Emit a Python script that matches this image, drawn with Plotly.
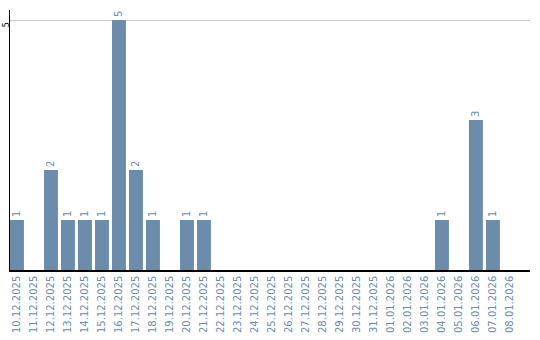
import plotly.graph_objects as go

dates = ["10.12.2025","11.12.2025","12.12.2025","13.12.2025","14.12.2025","15.12.2025",
         "16.12.2025","17.12.2025","18.12.2025","19.12.2025","20.12.2025","21.12.2025",
         "22.12.2025","23.12.2025","24.12.2025","25.12.2025","26.12.2025","27.12.2025",
         "28.12.2025","29.12.2025","30.12.2025","31.12.2025","01.01.2026","02.01.2026",
         "03.01.2026","04.01.2026","05.01.2026","06.01.2026","07.01.2026","08.01.2026"]
counts = [1,0,2,1,1,1,5,2,1,0,1,1,0,0,0,0,0,0,0,0,0,0,0,0,0,1,0,3,1,0]

bar_color = "#6b8cab"
labels = [str(v) if v else "" for v in counts]

fig = go.Figure(go.Bar(
    x=list(range(len(dates))), y=counts, text=labels, textposition="outside",
    textangle=-90, cliponaxis=False,
    textfont=dict(color=bar_color, size=10, family="DejaVu Sans"),
    marker=dict(color=bar_color, line=dict(width=0)),
))
fig.update_layout(
    width=540, height=340, margin=dict(l=10, r=10, t=10, b=70),
    paper_bgcolor="white", plot_bgcolor="white", showlegend=False, bargap=0.18,
    font=dict(family="DejaVu Sans", size=10),
)
fig.update_xaxes(
    tickmode="array", tickvals=list(range(len(dates))), ticktext=dates, tickangle=-90,
    range=[-0.41, 30.18], showgrid=False, showline=True, linecolor="black", linewidth=1.5,
    tickfont=dict(color=bar_color, size=10, family="DejaVu Sans"), ticks="", zeroline=False,
    automargin=False,
)
fig.update_yaxes(
    range=[0, 5.2], tickmode="array", tickvals=[5], ticktext=["5"], tickangle=-90,
    showgrid=True, gridcolor="#cccccc", gridwidth=1, showline=True, linecolor="black",
    linewidth=1, tickfont=dict(color="black", size=8, family="DejaVu Sans"), ticks="",
    zeroline=False, ticklen=0, automargin=False, ticklabelstandoff=-3, ticklabelshift=6,
)
fig.write_html("out.html")
